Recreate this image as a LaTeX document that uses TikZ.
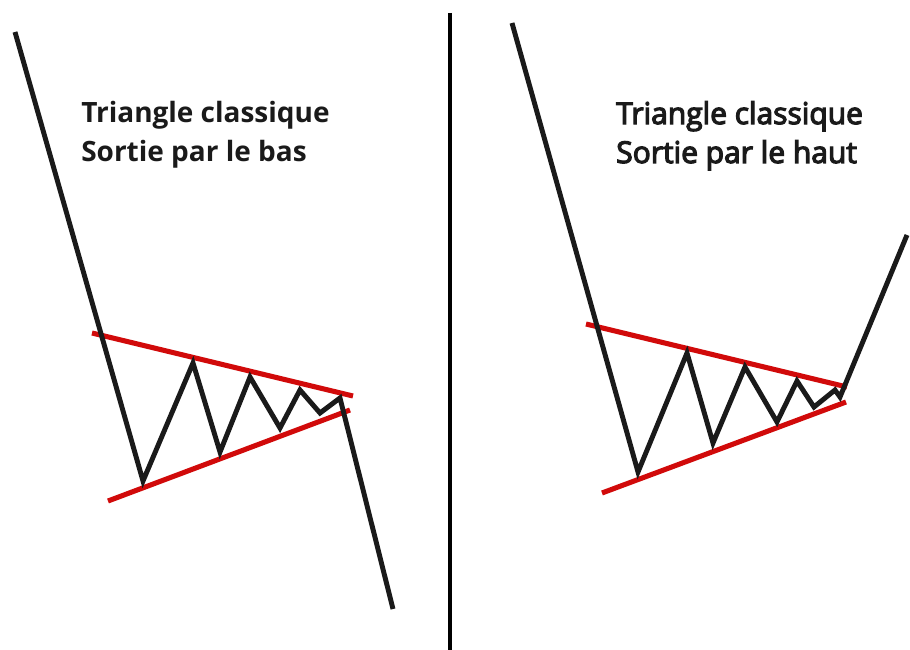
\documentclass[tikz,border=0pt]{standalone}
\usepackage{fontspec}
\setmainfont{Open Sans}
\newfontfamily\midsans[FakeBold=4]{Open Sans}
\usepackage{tikz}
\definecolor{trired}{HTML}{D10A0A}
\definecolor{triblack}{HTML}{1A1A1A}

\begin{document}
\begin{tikzpicture}[
      x=0.025cm, y=-0.025cm,
      price/.style={triblack, line width=3.5pt, line join=miter},
      trend/.style={trired, line width=3.6pt},
      lbl/.style={anchor=north west, inner sep=0pt, align=left, text=triblack},
    ]
    \useasboundingbox (0,0) rectangle (910,650);

    % ---------------- left: breakout downwards
    \node[lbl, font=\bfseries\fontsize{19.9}{27.7}\selectfont] (tl) at (81,101)
      {Triangle classique\\Sortie par le bas};
    \draw[trend] (92,333) -- (353,396);
    \draw[trend] (108,501) -- (350,410);
    \draw[price] (15,32) -- (143,481) -- (193,363) -- (220,452) -- (250,377)
      -- (280,428) -- (300,390) -- (320,413) -- (340,398) -- (393,609);

    % ---------------- divider
    \draw[black, line width=2.8pt] (450,13) -- (450,650);

    % ---------------- right: breakout upwards
    \node[lbl, font=\midsans\fontsize{21.3}{27.7}\selectfont] (tr) at (616,101)
      {Triangle classique\\Sortie par le haut};
    \draw[trend] (586,324) -- (847,387);
    \draw[trend] (602,493) -- (846,402);
    \draw[price] (512,23) -- (638,472) -- (687,353) -- (713,443) -- (745,367)
      -- (777,422) -- (797,381) -- (814,407) -- (835,390) -- (840,397) -- (907,235);
\end{tikzpicture}
\end{document}
